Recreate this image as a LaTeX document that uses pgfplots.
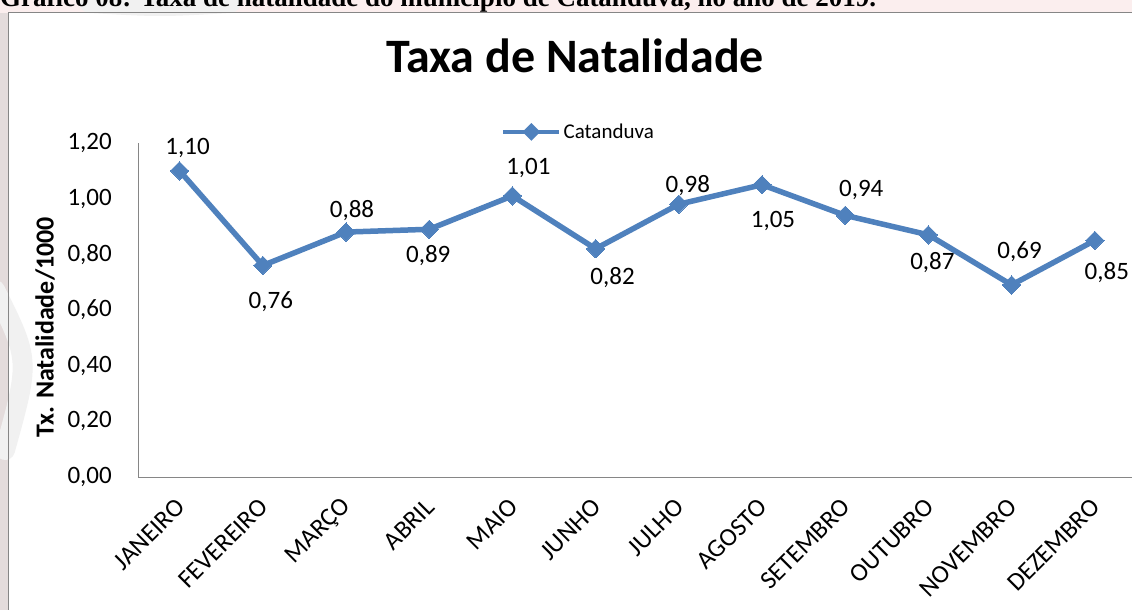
\documentclass[border=0pt]{standalone}
\usepackage{fontspec}
\setmainfont{Carlito}
\newfontfamily\capfont{Liberation Serif}
\usepackage{pgfplots}
\pgfplotsset{compat=1.18}
\usepackage{pgfplotstable}

\definecolor{serie}{HTML}{4F81BD}
\definecolor{eixo}{HTML}{868686}
\definecolor{faixa}{HTML}{FBEEEE}
\definecolor{borda}{HTML}{E4DCDC}
\definecolor{marca}{HTML}{F1F1F1}

% mes valor rotulo deslocamentos do rotulo (px)
\pgfplotstableread{
mes valor rot dx dy
0  1.10 1,10  8  23
1  0.76 0,76  8 -36
2  0.88 0,88  6  22
3  0.89 0,89 -1 -26
4  1.01 1,01 16  28
5  0.82 0,82 17 -29
6  0.98 0,98  9  19
7  1.05 1,05 11 -36
8  0.94 0,94 16  25
9  0.87 0,87  4 -28
10 0.69 0,69  8  33
11 0.85 0,85 12 -32
}\natalidade

\begin{document}
\begin{tikzpicture}[x=1pt,y=1pt]
\path[use as bounding box] (0,0) rectangle (1132,-610);
\clip (0,0) rectangle (1132,-610);
\fill[faixa] (0,0) rectangle (1132,-13);
\fill[borda] (0,-13) rectangle (8,-610);
\fill[white] (8,-13) rectangle (1132,-610);
% marca d'agua apagada
\draw[marca, line width=22pt, line cap=round] (90,-2) .. controls (160,-6) .. (230,-2);
\draw[marca, line width=20pt, line cap=round] (-5,-290) .. controls (30,-360) .. (5,-450);
\node[anchor=base west, inner sep=0pt, font=\capfont\bfseries\fontsize{27}{30}\selectfont]
  at (0,-7) {Gráfico 08: Taxa de natalidade do município de Catanduva, no ano de 2019.};
\draw[eixo, line width=1pt] (8,-610) -- (8,-13) -- (1132,-13);

\begin{axis}[
    at={(138pt,-477pt)}, anchor=south west,
    scale only axis, width=998.4pt, height=334pt,
    xmin=-0.5, xmax=11.5, ymin=0, ymax=1.2,
    axis x line=bottom, axis y line=left,
    axis line style={eixo, line width=1pt, -},
    major tick length=0pt,
    xtick={0,...,11},
    xticklabels={JANEIRO,FEVEREIRO,MARÇO,ABRIL,MAIO,JUNHO,JULHO,AGOSTO,SETEMBRO,OUTUBRO,NOVEMBRO,DEZEMBRO},
    xticklabel style={font=\fontsize{25.5}{30}\selectfont, xshift=1pt, yshift=-26pt, rotate=45, anchor=east, inner sep=0pt},
    ytick={0,0.2,...,1.2},
    yticklabel style={font=\fontsize{25}{30}\selectfont, anchor=east, inner sep=0pt, xshift=-26pt},
    yticklabel={\pgfmathprintnumber[fixed, fixed zerofill, precision=2, use comma, assume math mode=true]{\tick}},
    ylabel={Tx. Natalidade/1000},
    ylabel style={font=\bfseries\fontsize{26}{30}\selectfont, at={(axis description cs:-0.0931,0.448)}, anchor=center},
    title={Taxa de Natalidade},
    title style={font=\bfseries\fontsize{48}{56}\selectfont, at={(axis description cs:0.4377,1.1946)}, anchor=base},
    legend style={draw=none, fill=none, font=\fontsize{21}{25}\selectfont,
      at={(axis description cs:0.4412,1.033)}, anchor=center, inner sep=0pt},
    legend image code/.code={
      \draw[serie, line width=4.5pt] (0pt,0pt) -- (56pt,0pt);
      \fill[serie] (28pt,5pt) -- (33pt,0pt) -- (28pt,-5pt) -- (23pt,0pt) -- cycle;},
    clip=false,
  ]
  \addplot[serie, line width=5.5pt, mark=square*, mark size=6.5pt,
    mark options={rotate=45, line width=0pt},
    point meta=explicit symbolic,
    visualization depends on={\thisrow{dx} \as \ldx},
    visualization depends on={\thisrow{dy} \as \ldy},
    nodes near coords,
    every node near coord/.append style={text=black, font=\fontsize{25}{30}\selectfont,
      anchor=center, inner sep=0pt, xshift=\ldx pt, yshift=\ldy pt},
  ] table[x=mes, y=valor, meta=rot] {\natalidade};
  \legend{Catanduva}
\end{axis}
\end{tikzpicture}
\end{document}
